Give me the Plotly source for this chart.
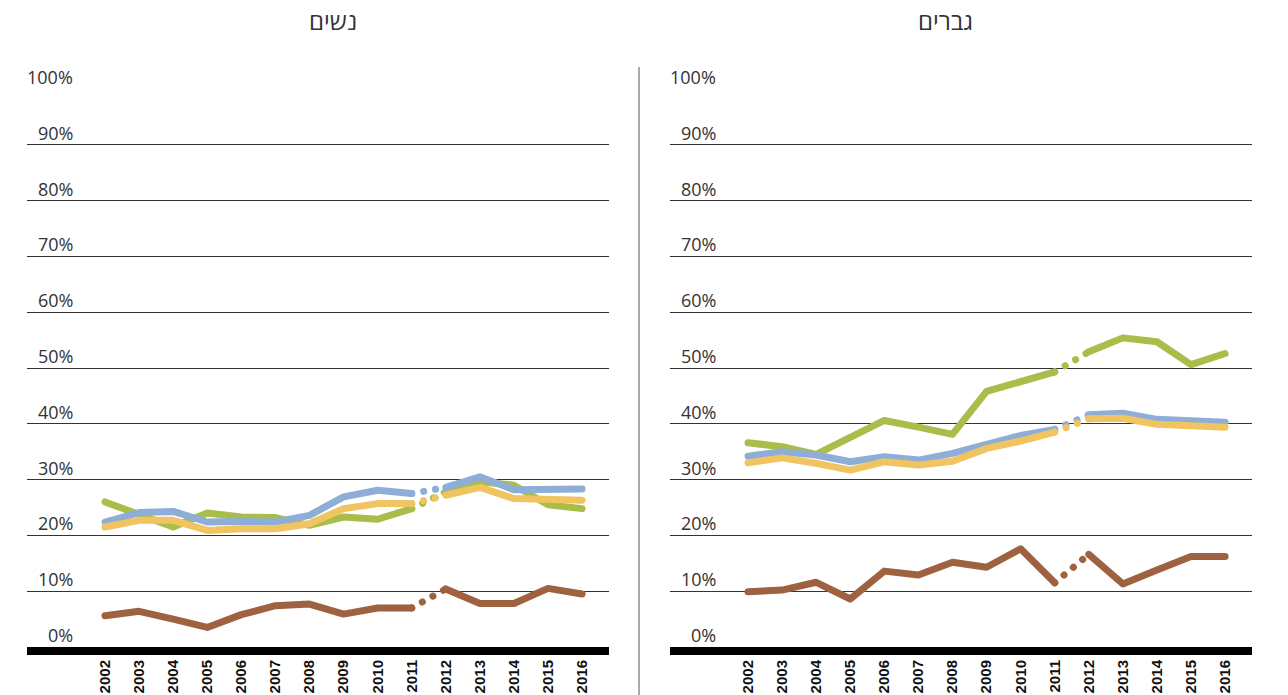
import plotly.graph_objects as go

W, H = 1288, 695

years = list(range(2002, 2017))
year_labels = [str(y) for y in years]

# Women (נשים)
women_blue = [22.4, 24.1, 24.3, 22.4, 22.5, 22.4, 23.6, 26.9, 28.1, 27.5, 28.6, 30.5, 28.2, 28.2, 28.3]
women_green = [26.0, 23.9, 21.5, 24.0, 23.3, 23.2, 21.8, 23.3, 22.9, 24.8, 27.8, 29.6, 29.0, 25.5, 24.8]
women_yellow = [21.5, 22.7, 22.7, 20.9, 21.2, 21.2, 22.1, 24.8, 25.7, 25.7, 27.2, 28.6, 26.6, 26.3, 26.3]
women_brown = [5.6, 6.4, 5.0, 3.5, 5.8, 7.4, 7.7, 5.9, 7.0, 7.0, 10.4, 7.8, 7.8, 10.5, 9.5]

# Men (גברים)
men_blue = [34.2, 35.0, 34.4, 33.2, 34.1, 33.5, 34.7, 36.4, 37.9, 39.0, 41.6, 41.9, 40.8, 40.6, 40.3]
men_green = [36.6, 35.9, 34.5, 37.6, 40.6, 39.4, 38.1, 45.8, 47.5, 49.3, 52.9, 55.4, 54.7, 50.6, 52.6]
men_yellow = [33.0, 33.9, 32.9, 31.7, 33.2, 32.6, 33.3, 35.6, 36.9, 38.5, 40.9, 41.0, 39.9, 39.7, 39.4]
men_brown = [9.9, 10.2, 11.6, 8.6, 13.6, 12.9, 15.2, 14.3, 17.6, 11.5, 16.6, 11.3, 13.8, 16.2, 16.2]

y_ticks = list(range(0, 101, 10))
y_tick_labels = [f"{v}%" for v in y_ticks]

titles = ["נשים", "גברים"]

COL = {"blue": "#8EAED8", "green": "#A9BD4A", "yellow": "#F0C460", "brown": "#9E6240"}
LW = 7

fig = go.Figure()

panels = [
    ("x", "y", [("green", women_green), ("blue", women_blue), ("yellow", women_yellow), ("brown", women_brown)]),
    ("x2", "y2", [("green", men_green), ("blue", men_blue), ("yellow", men_yellow), ("brown", men_brown)]),
]

gap = years.index(2011)
for xa, ya, series in panels:
    for cname, vals in series:
        c = COL[cname]
        fig.add_trace(go.Scatter(x=years[:gap + 1], y=vals[:gap + 1], mode="lines",
                                 line=dict(color=c, width=LW), xaxis=xa, yaxis=ya,
                                 showlegend=False, hoverinfo="skip"))
        fig.add_trace(go.Scatter(x=years[gap:gap + 2], y=vals[gap:gap + 2], mode="lines",
                                 line=dict(color=c, width=LW, dash="0.1px,12px"), xaxis=xa, yaxis=ya,
                                 showlegend=False, hoverinfo="skip"))
        fig.add_trace(go.Scatter(x=years[gap + 1:], y=vals[gap + 1:], mode="lines",
                                 line=dict(color=c, width=LW), xaxis=xa, yaxis=ya,
                                 showlegend=False, hoverinfo="skip"))

def px_x(p):
    return p / W

def px_y(p):
    return 1 - p / H

top_px, bot_px = 89, 647
ydom = [px_y(bot_px), px_y(top_px)]
left_dom = [px_x(27), px_x(609)]
right_dom = [px_x(670), px_x(1252)]
xr = [1999.71, 2016.79]

font = "Open Sans, DejaVu Sans, sans-serif"

xcommon = dict(range=xr, tickmode="array", tickvals=years, ticktext=year_labels, tickangle=-90,
               tickfont=dict(family="Liberation Sans, Arial, sans-serif", size=15, color="#111",
                             weight="bold"),
               showgrid=False, zeroline=False, showline=False, ticks="", ticklabelstandoff=9,
               fixedrange=True)
ycommon = dict(range=[0, 100], tickvals=y_ticks, showticklabels=False, showgrid=True,
               gridcolor="#333333", gridwidth=1, zeroline=False, showline=False, ticks="",
               fixedrange=True)

fig.update_layout(
    width=W, height=H, margin=dict(l=0, r=0, t=0, b=0),
    paper_bgcolor="white", plot_bgcolor="white",
    xaxis=dict(domain=left_dom, anchor="y", **xcommon),
    yaxis=dict(domain=ydom, anchor="x", **ycommon),
    xaxis2=dict(domain=right_dom, anchor="y2", **xcommon),
    yaxis2=dict(domain=ydom, anchor="x2", **ycommon),
)

annotations = []
for xd, (xa, ya) in zip([left_dom, right_dom], [("x", "y"), ("x2", "y2")]):
    lab_x = xd[0] + px_x(48)
    for v, t in zip(y_ticks, y_tick_labels):
        annotations.append(dict(x=lab_x, xref="paper", y=v, yref=ya, text=t, showarrow=False,
                                xanchor="right", yanchor="bottom", yshift=-2,
                                font=dict(family=font, size=18, color="#333")))

for t, cx in zip(titles, [333, 945]):
    annotations.append(dict(x=px_x(cx), y=px_y(20), xref="paper", yref="paper", text=t,
                            showarrow=False, xanchor="center", yanchor="middle",
                            font=dict(family=font, size=24, color="#333")))
fig.update_layout(annotations=annotations)

shapes = []
for xd in [left_dom, right_dom]:
    shapes.append(dict(type="rect", xref="paper", yref="paper", x0=xd[0], x1=xd[1],
                       y0=px_y(655), y1=px_y(647), fillcolor="black", line=dict(width=0), layer="above"))
shapes.append(dict(type="line", xref="paper", yref="paper", x0=px_x(639), x1=px_x(639),
                   y0=px_y(67), y1=0, line=dict(color="#555", width=1)))
fig.update_layout(shapes=shapes)

post = """
document.body.style.margin = '0';
document.body.style.overflow = 'hidden';
var gd = document.getElementById('{plot_id}');
function rc(){ gd.querySelectorAll('path.js-line').forEach(function(p){ p.style.strokeLinecap='round'; p.style.strokeLinejoin='round'; }); }
rc();
gd.on('plotly_afterplot', rc);
"""

fig.write_html("out.html", post_script=post, config={"displayModeBar": False})
